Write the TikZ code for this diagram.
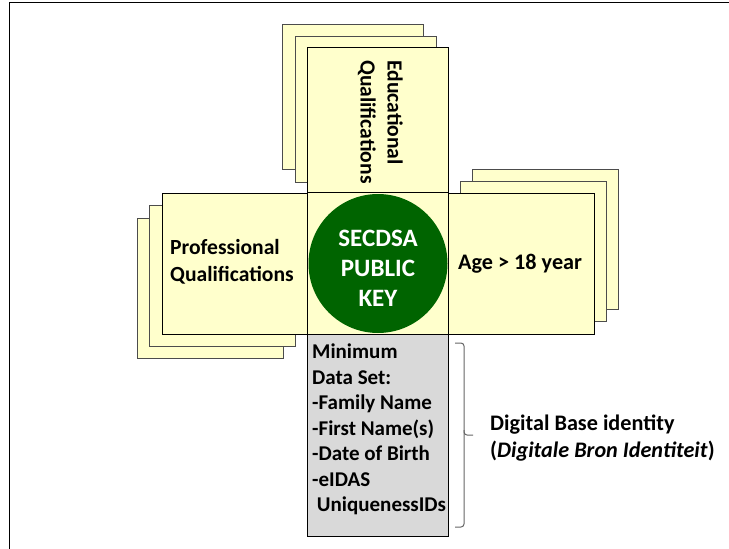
\documentclass[tikz,border=0pt]{standalone}
\usepackage{fontspec}
\setmainfont{Carlito}
\definecolor{cardyellow}{RGB}{255,255,204}
\definecolor{keygreen}{RGB}{0,100,0}
\definecolor{datagray}{RGB}{217,217,217}
\tikzset{
  card/.style={draw=black!70, fill=cardyellow, line width=1pt},
  frontcard/.style={card, draw=black, anchor=north west, inner sep=0pt},
  cardtext/.style={font=\fontsize{21.6}{27}\selectfont\bfseries, align=left, inner sep=0pt}
}
\begin{document}
\begin{tikzpicture}[x=1pt,y=-1pt]
            \useasboundingbox (0,0) rectangle (729,549);
            \draw[line width=1.5pt] (9.5,549) -- (9.5,2.5) -- (729,2.5);

            % top stack
            \draw[card] (282,24) rectangle (423,169);
            \draw[card] (295,36) rectangle (436,182);
            \node[frontcard, minimum width=141pt, minimum height=145pt] (edu) at (307,47) {};
            \node[cardtext, rotate=-90, anchor=north west] (edulabel) at (403,60) {Educational\\Qualifications};

            % left stack
            \draw[card] (137,218) rectangle (283,358);
            \draw[card] (149,205) rectangle (295,346);
            \node[frontcard, minimum width=145pt, minimum height=141pt] (prof) at (162,193) {};
            \node[cardtext, anchor=west] (proflabel) at (170,262) {Professional\\Qualifications};

            % right stack
            \draw[card] (472,169) rectangle (618,309);
            \draw[card] (460,181) rectangle (606,321);
            \node[frontcard, minimum width=146pt, minimum height=141pt] (age) at (448,193) {};
            \node[cardtext, font=\fontsize{22.2}{27}\selectfont\bfseries, anchor=west] (agelabel) at (458,264) {Age > 18 year};

            % centre
            \node[frontcard, minimum width=141pt, minimum height=142pt] (core) at (307,192) {};
            \node[circle, fill=keygreen, minimum size=139pt] (key) at (core.center) {};
            \node[text=white, align=center, inner sep=0pt,
                  font=\fontsize{25}{30}\selectfont\bfseries] (keylabel) at ([yshift=-5pt]key.center) {SECDSA\\PUBLIC\\KEY};

            % minimum data set
            \node[frontcard, fill=datagray, minimum width=141pt, minimum height=202pt] (mds) at (307,334) {};
            \node[cardtext, font=\fontsize{21}{25.5}\selectfont\bfseries, anchor=north west] (mdslabel) at (312,344)
                {Minimum\\Data Set:\\-Family Name\\-First Name(s)\\-Date of Birth\\-eIDAS\\\ UniquenessIDs};

            \draw[black!60, line width=1pt, rounded corners=3pt]
                (455,343) -- (464,343) -- (464,435) -- (473,435);
            \draw[black!60, line width=1pt, rounded corners=3pt]
                (464,430) -- (464,527) -- (455,527);
            \node[cardtext, font=\fontsize{22.2}{27}\selectfont\bfseries, anchor=west] (dbi) at (490,438)
                {Digital Base identity\\(\textit{Digitale Bron Identiteit})};
\end{tikzpicture}
\end{document}
